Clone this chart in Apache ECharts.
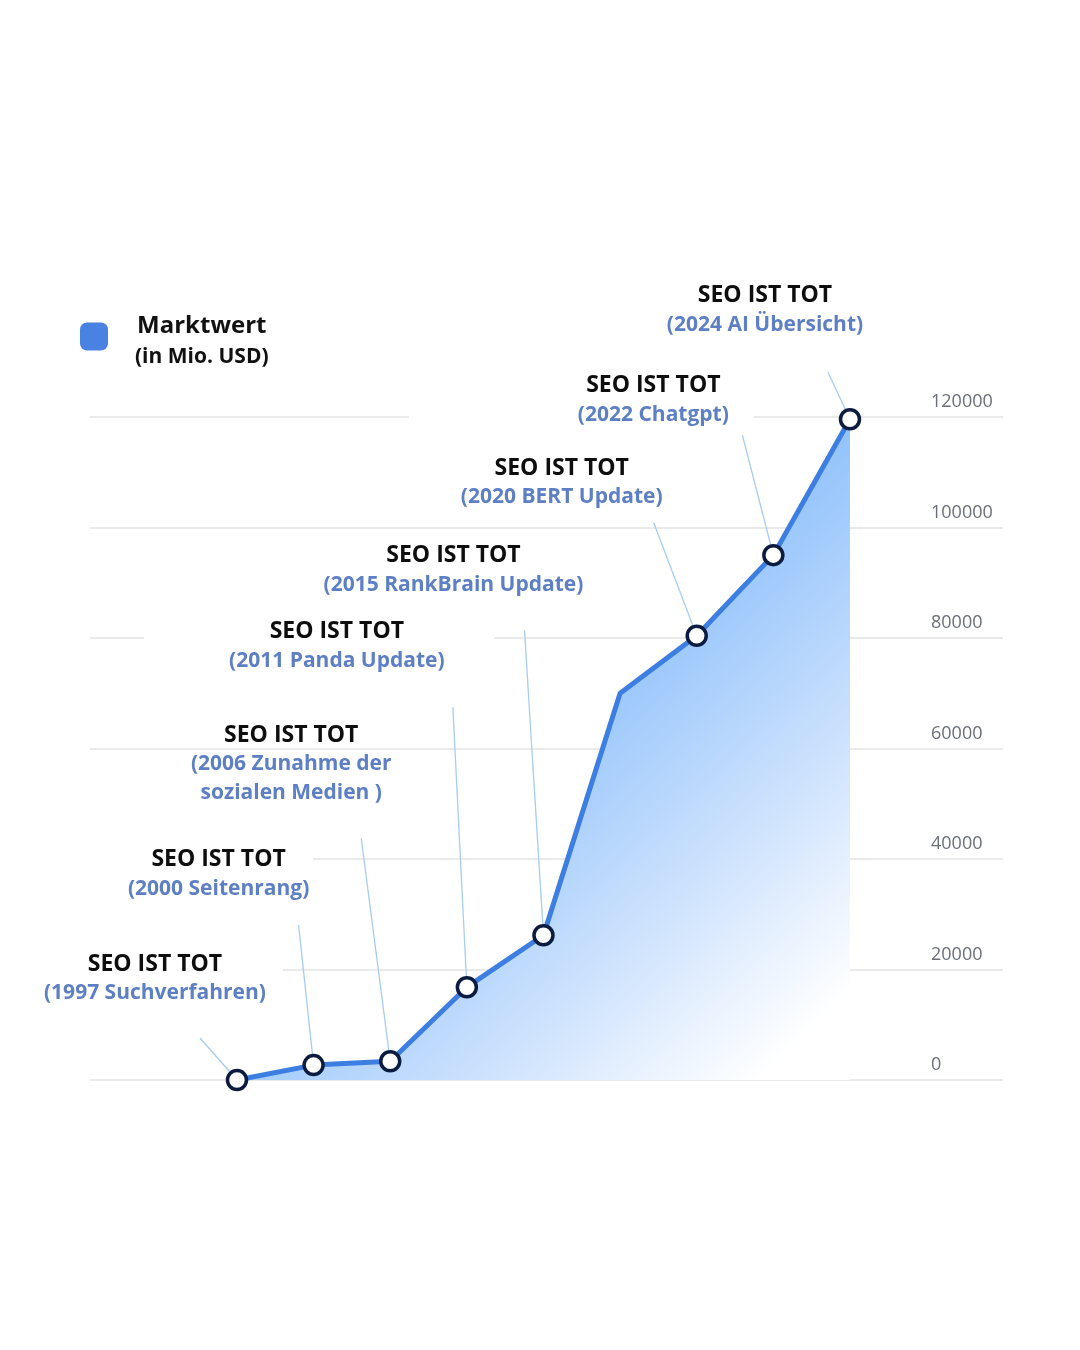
<!DOCTYPE html>
<html>
<head>
<meta charset="utf-8">
<script src="https://cdn.jsdelivr.net/npm/echarts@6/dist/echarts.min.js"></script>
<style>
  html, body { margin: 0; padding: 0; background: #ffffff; }
  #chart { width: 1080px; height: 1350px; }
</style>
</head>
<body>
<div id="chart"></div>
<script>
// ---------- data ----------
const years = ['1997', '2000', '2006', '2011', '2015', '2018', '2020', '2022', '2024'];
const marketValue = [0, 2700, 3400, 16800, 26200, 70000, 80400, 95000, 119600];
const eventTitle = 'SEO IST TOT';
const eventNames = [
  '(1997 Suchverfahren)',
  '(2000 Seitenrang)',
  '(2006 Zunahme der\nsozialen Medien )',
  '(2011 Panda Update)',
  '(2015 RankBrain Update)',
  null,
  '(2020 BERT Update)',
  '(2022 Chatgpt)',
  '(2024 AI Übersicht)'
];
const seriesName = 'Marktwert';
const legendSubtitle = '(in Mio. USD)';
const yAxisMin = 0;
const yAxisMax = 120000;
const yAxisStep = 20000;

// ---------- annotation layout (pixel offsets relative to each point) ----------
const labelOffset = [[-82, -101], [-95, -191], [-99, -297], [-130, -341], [-90, -365], null, [-135, -153], [-120, -155], [-85, -109]];
const leaderStart = [[-37, -42], [-15, -140], [-29, -223], [-14, -280], [-19, -305], null, [-43, -113], [-32, -124], [-22, -47]];
const labelPadding = [[6, 17, 22, 14], [6, 4, 6, 40], [0, 0, 0, 0], [8, 50, 8, 85], [6, 10, 6, 10], null, [6, 10, 6, 10], [6, 25, 6, 169], [6, 10, 6, 10]];
const labelHasBox = [true, true, false, true, true, false, true, true, true];

const FONT = '"Open Sans", "Noto Sans", sans-serif';
const richStyles = {
  t: { fill: '#0e0e0e', fontSize: 23, fontWeight: 700, fontFamily: FONT, lineHeight: 29 },
  s: { fill: '#5c7fc5', fontSize: 21, fontWeight: 700, fontFamily: FONT, lineHeight: 29 }
};

const pointData = marketValue.map((v, i) => [i, v]);

const chart = echarts.init(document.getElementById('chart'), null, { renderer: 'canvas' });

const option = {
  animation: false,
  backgroundColor: '#ffffff',
  grid: { left: 90, right: 77, top: 417, bottom: 270 },
  xAxis: { type: 'value', min: -1.918, max: 9.997, show: false },
  yAxis: {
    type: 'value', position: 'right',
    min: yAxisMin, max: yAxisMax, interval: yAxisStep,
    axisLine: { show: false }, axisTick: { show: false },
    splitLine: { lineStyle: { color: '#e3e3e3', width: 1.5 } },
    axisLabel: {
      color: '#6b6f77', fontSize: 18, fontFamily: FONT,
      align: 'left', margin: -72, verticalAlign: 'bottom', padding: [0, 0, 6, 0],
      formatter: function (v) { return String(v); }
    }
  },
  legend: {
    left: 80, top: 314, padding: 0,
    selectedMode: false,
    icon: 'roundRect', itemWidth: 28, itemHeight: 28,
    itemStyle: { color: '#4a82e4', borderWidth: 0 },
    data: [seriesName],
    formatter: function (name) { return '{a|' + name + '}\n{b|' + legendSubtitle + '}'; },
    textStyle: {
      padding: [10, 0, 0, 22],
      rich: {
        a: { fontSize: 24, fontWeight: 700, color: '#111111', fontFamily: FONT, lineHeight: 31, align: 'center' },
        b: { fontSize: 21, fontWeight: 700, color: '#111111', fontFamily: FONT, lineHeight: 31, align: 'center' }
      }
    }
  },
  series: [
    {
      type: 'line',
      name: seriesName,
      data: pointData.map((p, i) => eventNames[i] ? p : { value: p, symbol: 'none' }),
      symbol: 'circle',
      symbolSize: 19,
      showAllSymbol: true,
      clip: false,
      z: 3,
      lineStyle: { color: '#3d7ee2', width: 5 },
      itemStyle: { color: '#ffffff', borderColor: '#0b1c40', borderWidth: 3.5 },
      areaStyle: {
        opacity: 1,
        color: new echarts.graphic.LinearGradient(0, 0, 1, 1, [
          { offset: 0, color: '#78b0f8' },
          { offset: 0.45, color: '#8fc1fb' },
          { offset: 0.72, color: '#cde2fd' },
          { offset: 0.93, color: '#ffffff' }
        ])
      }
    },
    {
      type: 'custom',
      name: 'annotations',
      data: pointData,
      encode: { x: 0, y: 1 },
      z: 2,
      silent: true,
      renderItem: function (params, api) {
        const i = params.dataIndex;
        if (!eventNames[i]) return null;
        const p = api.coord([api.value(0), api.value(1)]);
        const off = labelOffset[i], ls = leaderStart[i], pad = labelPadding[i];
        const sx = p[0] + ls[0], sy = p[1] + ls[1];
        const dx = sx - p[0], dy = sy - p[1];
        const d = Math.hypot(dx, dy);
        const r = 11;
        const ex = p[0] + dx / d * r, ey = p[1] + dy / d * r;
        return {
          type: 'group',
          children: [
            { type: 'line', shape: { x1: sx, y1: sy, x2: ex, y2: ey }, style: { stroke: '#a8ccf4', lineWidth: 1.3 } },
            {
              type: 'text',
              x: p[0] + off[0] - (pad[3] - pad[1]) / 2,
              y: p[1] + off[1] - (pad[0] - pad[2]) / 2,
              style: {
                text: '{t|' + eventTitle + '}\n{s|' + eventNames[i] + '}',
                rich: richStyles,
                align: 'center',
                verticalAlign: 'middle',
                backgroundColor: labelHasBox[i] ? '#ffffff' : null,
                padding: pad
              }
            }
          ]
        };
      }
    }
  ]
};

chart.setOption(option);
</script>
</body>
</html>
